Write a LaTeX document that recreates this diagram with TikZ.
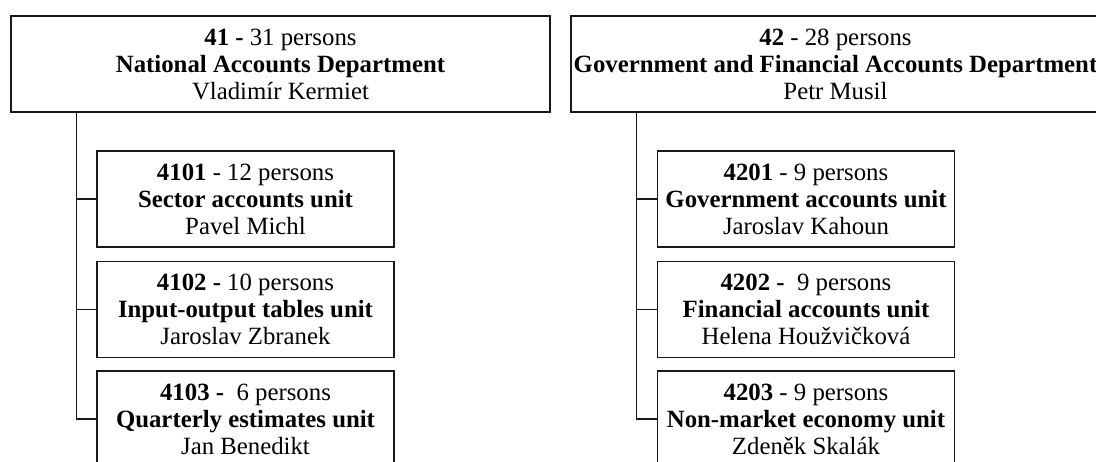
\documentclass[tikz,border=0pt]{standalone}
\usepackage{fontspec}
\setmainfont{Liberation Serif}
\begin{document}
\begin{tikzpicture}[x=1pt,y=-1pt,
  box/.style={draw=black!90,line width=1.1pt,rectangle,inner sep=0pt,align=center,
    font=\fontsize{24.8}{27}\selectfont},
  dept/.style={box,minimum height=96pt},
  unit/.style={box,minimum width=297pt,minimum height=96pt},
  conn/.style={draw=black!90,line width=1.1pt}]
\useasboundingbox (0,0) rectangle (1096,461);
\clip (0,0) rectangle (1096,461);
\fill[white] (0,0) rectangle (1096,461);
% departments
\node[dept,minimum width=539pt] (d41) at (280.5,64) {\textbf{41 -} 31 persons\\\textbf{National Accounts Department}\\Vladimír Kermiet};
\node[dept,minimum width=529pt] (d42) at (835.5,64) {\textbf{42} - 28 persons\\\textbf{Government and Financial Accounts Department}\\Petr Musil};
% units of 41
\node[unit] (u4101) at (245.5,199) {\textbf{4101} - 12 persons\\\textbf{Sector accounts unit}\\Pavel Michl};
\node[unit] (u4102) at (245.5,309.5) {\textbf{4102 -} 10 persons\\\textbf{Input-output tables unit}\\Jaroslav Zbranek};
\node[unit] (u4103) at (245.5,419) {\textbf{4103 -}\ \ 6 persons\\\textbf{Quarterly estimates unit}\\Jan Benedikt};
% units of 42
\node[unit] (u4201) at (806,199) {\textbf{4201} - 9 persons\\\textbf{Government accounts unit}\\Jaroslav Kahoun};
\node[unit] (u4202) at (806,309.5) {\textbf{4202 -}\ \ 9 persons\\\textbf{Financial accounts unit}\\Helena Houžvičková};
\node[unit] (u4203) at (806,419) {\textbf{4203} - 9 persons\\\textbf{Non-market economy unit}\\Zdeněk Skalák};
% connectors
\path (d41.south west) ++(66,0) coordinate (t41);
\path (d42.south west) ++(66,0) coordinate (t42);
\draw[conn] (t41) |- (u4103.west);
\draw[conn] (t41 |- u4101.west) -- (u4101.west);
\draw[conn] (t41 |- u4102.west) -- (u4102.west);
\draw[conn] (t42) |- (u4203.west);
\draw[conn] (t42 |- u4201.west) -- (u4201.west);
\draw[conn] (t42 |- u4202.west) -- (u4202.west);
\end{tikzpicture}
\end{document}
